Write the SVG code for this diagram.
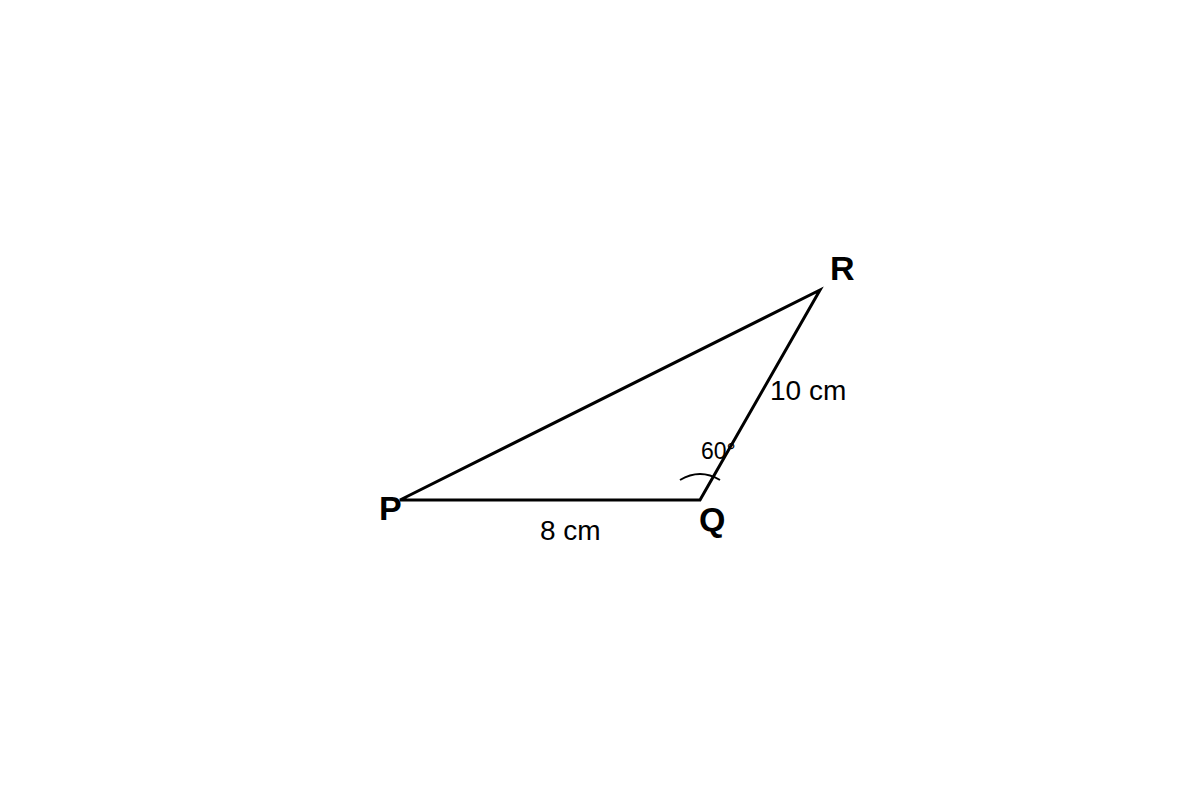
<svg xmlns="http://www.w3.org/2000/svg" width="1200" height="800" viewBox="0 0 1200 800">
<style>
.edge{fill:none;stroke:#000;stroke-width:3;stroke-linejoin:miter}
.arc{fill:none;stroke:#000;stroke-width:2}
.vtx{font-family:"Liberation Sans",Arial,sans-serif;font-weight:bold;font-size:34px;fill:#000}
.lbl{font-family:"Liberation Sans",Arial,sans-serif;font-size:28px;fill:#000}
.ang{font-family:"Liberation Sans",Arial,sans-serif;font-size:23px;fill:#000}
</style>
<rect width="1200" height="800" fill="#fff"/>
<g id="connectors">
<path class="edge" d="M400 500 L700 500 L820 290 Z"/>
<path class="arc" d="M680 480 Q700 468 720 480"/>
</g>
<g id="P"><text class="vtx" x="379" y="520">P</text></g>
<g id="Q"><text class="vtx" x="699" y="531">Q</text></g>
<g id="R"><text class="vtx" x="830" y="280">R</text></g>
<g id="labels">
<text class="lbl" x="770" y="400">10 cm</text>
<text class="lbl" x="540" y="540">8 cm</text>
<text class="ang" x="701" y="459">60°</text>
</g>
</svg>
